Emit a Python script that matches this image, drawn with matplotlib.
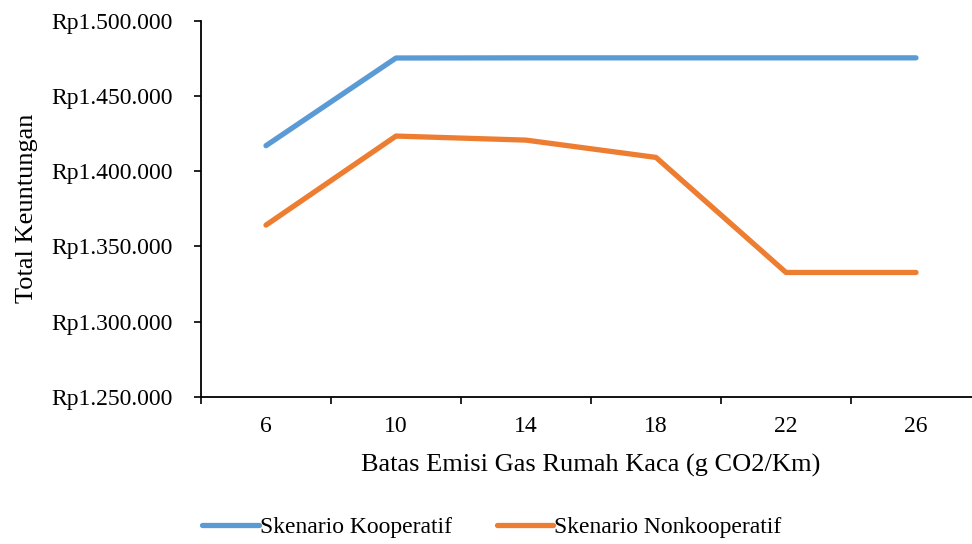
import matplotlib
matplotlib.use('Agg')
import matplotlib.pyplot as plt
from matplotlib.ticker import FuncFormatter, FixedLocator

# data
batas_emisi = ['6', '10', '14', '18', '22', '26']
kooperatif = [1416900, 1475200, 1475300, 1475300, 1475300, 1475300]
nonkooperatif = [1364100, 1423300, 1420600, 1409100, 1332600, 1332600]
y_ticks = [1250000, 1300000, 1350000, 1400000, 1450000, 1500000]

BLUE = '#5B9BD5'
ORANGE = '#ED7D31'

plt.rcParams['font.family'] = ['Liberation Serif', 'DejaVu Serif']
plt.rcParams['font.size'] = 17

fig = plt.figure(figsize=(9.72, 5.44), dpi=100)
ax = fig.add_axes([201 / 972, 1 - 396.7 / 544, 780 / 972, 376 / 544])

x = list(range(len(batas_emisi)))
ax.plot(x, kooperatif, color=BLUE, lw=3.8, solid_capstyle='round',
        solid_joinstyle='round', label='Skenario Kooperatif')
ax.plot(x, nonkooperatif, color=ORANGE, lw=3.8, solid_capstyle='round',
        solid_joinstyle='round', label='Skenario Nonkooperatif')

ax.set_xlim(-0.5, len(batas_emisi) - 0.5)
ax.set_ylim(y_ticks[0], y_ticks[-1])
ax.set_yticks(y_ticks)
ax.yaxis.set_major_formatter(FuncFormatter(lambda v, p: 'Rp' + f'{int(v):,}'.replace(',', '.')))

# category axis: ticks on the boundaries, labels in the middle
ax.xaxis.set_major_locator(FixedLocator([i - 0.5 for i in range(len(batas_emisi) + 1)]))
ax.xaxis.set_major_formatter(FuncFormatter(lambda v, p: ''))
ax.xaxis.set_minor_locator(FixedLocator(x))
ax.set_xticklabels(batas_emisi, minor=True)
ax.tick_params(axis='x', which='major', length=5, width=1.2, direction='out')
ax.tick_params(axis='x', which='minor', length=0, pad=14)
ax.tick_params(axis='y', length=5, width=1.2, direction='out', pad=15)

for side in ['top', 'right']:
    ax.spines[side].set_visible(False)
for side in ['left', 'bottom']:
    ax.spines[side].set_linewidth(1.3)

ax.set_xlabel('Batas Emisi Gas Rumah Kaca (g CO2/Km)', fontsize=19, labelpad=12)
ax.set_ylabel('Total Keuntungan', fontsize=19)
ax.yaxis.set_label_coords(-(201 - 38) / 780, 0.5)

fig.legend(loc='center', bbox_to_anchor=(0.506, 1 - 527 / 544), ncol=2,
           frameon=False, handlelength=2.4, handletextpad=0.05, columnspacing=1.9)

plt.savefig('out.png', dpi=100)
